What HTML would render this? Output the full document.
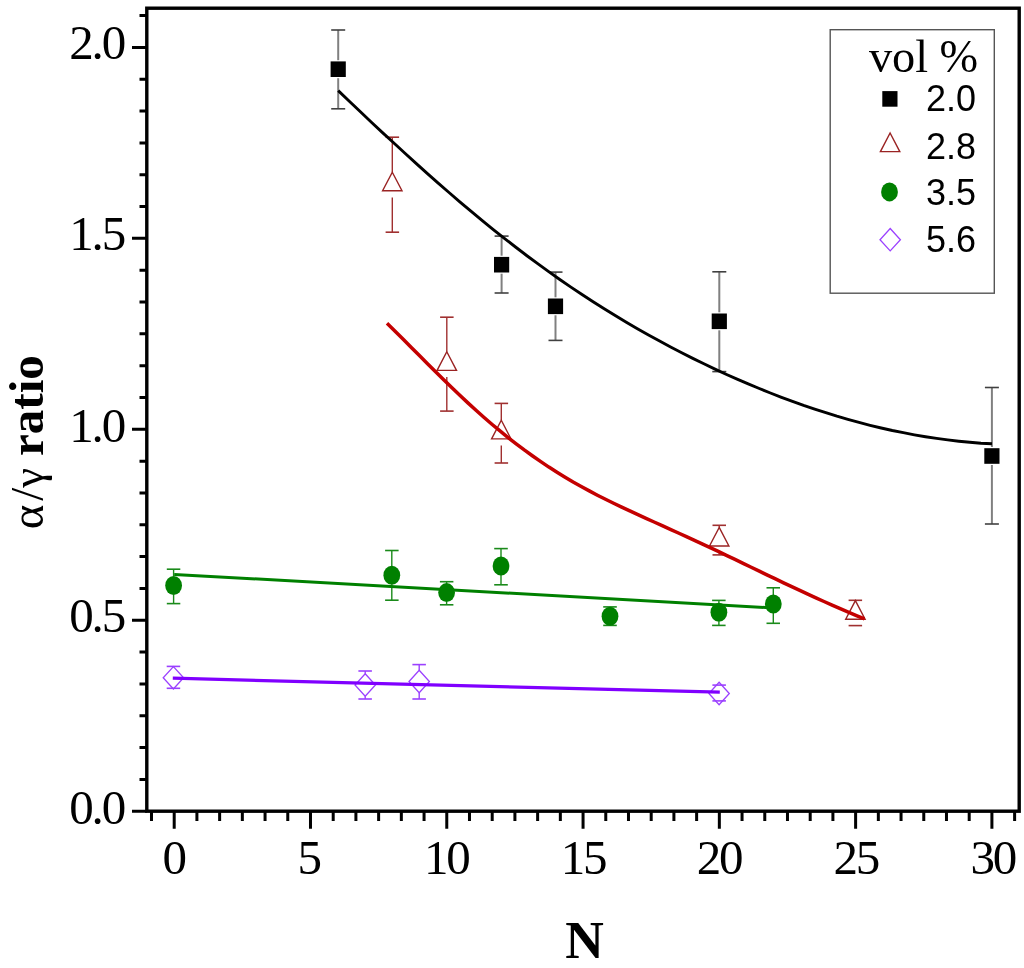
<!DOCTYPE html>
<html><head><meta charset="utf-8"><style>
html,body{margin:0;padding:0;background:#fff;}
body{width:1024px;height:968px;overflow:hidden;position:relative;}
svg{position:absolute;left:0;top:0;will-change:transform;}
text{font-family:"Liberation Serif",serif;}
</style></head><body>
<svg width="1024" height="968" viewBox="0 0 1024 968">

<rect x="146.8" y="8.2" width="872.4" height="803.0" fill="none" stroke="#000" stroke-width="3.4"/>
<path d="M132,811.20H146.8 M132,620.25H146.8 M132,429.30H146.8 M132,238.35H146.8 M132,47.40H146.8 M139.5,779.38H146.8 M139.5,747.55H146.8 M139.5,715.73H146.8 M139.5,683.90H146.8 M139.5,652.08H146.8 M139.5,588.43H146.8 M139.5,556.60H146.8 M139.5,524.78H146.8 M139.5,492.95H146.8 M139.5,461.13H146.8 M139.5,397.48H146.8 M139.5,365.65H146.8 M139.5,333.83H146.8 M139.5,302.00H146.8 M139.5,270.18H146.8 M139.5,206.53H146.8 M139.5,174.70H146.8 M139.5,142.88H146.8 M139.5,111.05H146.8 M139.5,79.23H146.8 M139.5,15.58H146.8" stroke="#000" stroke-width="3" fill="none"/>
<path d="M174.20,811.2V828.7 M310.49,811.2V828.7 M446.77,811.2V828.7 M583.06,811.2V828.7 M719.34,811.2V828.7 M855.62,811.2V828.7 M991.91,811.2V828.7 M151.49,811.2V821 M196.91,811.2V821 M219.63,811.2V821 M242.34,811.2V821 M265.06,811.2V821 M287.77,811.2V821 M333.20,811.2V821 M355.91,811.2V821 M378.63,811.2V821 M401.34,811.2V821 M424.06,811.2V821 M469.48,811.2V821 M492.20,811.2V821 M514.91,811.2V821 M537.63,811.2V821 M560.34,811.2V821 M605.77,811.2V821 M628.48,811.2V821 M651.20,811.2V821 M673.91,811.2V821 M696.63,811.2V821 M742.05,811.2V821 M764.77,811.2V821 M787.48,811.2V821 M810.20,811.2V821 M832.91,811.2V821 M878.34,811.2V821 M901.05,811.2V821 M923.77,811.2V821 M946.48,811.2V821 M969.20,811.2V821 M1014.62,811.2V821" stroke="#000" stroke-width="3" fill="none"/>
<text x="69.3" y="59.1" font-size="49" letter-spacing="-2.2">2.0</text>
<text x="69.3" y="250.3" font-size="49" letter-spacing="-2.2">1.5</text>
<text x="69.3" y="441.5" font-size="49" letter-spacing="-2.2">1.0</text>
<text x="69.3" y="631.9" font-size="49" letter-spacing="-2.2">0.5</text>
<text x="69.3" y="824.3" font-size="49" letter-spacing="-2.2">0.0</text>
<text x="162.5" y="874.1" font-size="49" letter-spacing="-2.2">0</text>
<text x="297.5" y="874.1" font-size="49" letter-spacing="-2.2">5</text>
<text x="424.0" y="874.1" font-size="49" letter-spacing="-2.2">10</text>
<text x="560.7" y="874.1" font-size="49" letter-spacing="-2.2">15</text>
<text x="696.8" y="874.1" font-size="49" letter-spacing="-2.2">20</text>
<text x="833.5" y="874.1" font-size="49" letter-spacing="-2.2">25</text>
<text x="970.4" y="874.1" font-size="49" letter-spacing="-2.2">30</text>
<text x="565.3" y="957.6" font-size="53.4" font-weight="bold">N</text>
<g transform="translate(43,527.4) rotate(-90)"><text x="-1.9" y="0" font-size="47">α</text><text x="26.7" y="0" font-size="47">/</text><text x="39.7" y="0" font-size="45">γ</text><text x="71.3" y="0" font-size="49.2" font-weight="bold">ratio</text></g>
<rect x="830.2" y="29.7" width="164.1" height="263.5" fill="none" stroke="#555" stroke-width="1.4"/>
<text x="868.9" y="71.5" font-size="46.3">vol %</text>
<text x="926" y="110.8" font-size="36" style="font-family:'Liberation Sans',sans-serif">2.0</text>
<text x="926" y="158.5" font-size="36" style="font-family:'Liberation Sans',sans-serif">2.8</text>
<text x="926" y="205" font-size="36" style="font-family:'Liberation Sans',sans-serif">3.5</text>
<text x="926" y="252" font-size="36" style="font-family:'Liberation Sans',sans-serif">5.6</text>
<rect x="882.3" y="91.1" width="15.2" height="15.6" fill="#000"/>
<path d="M890.1,133.0L899.8,151.6L880.4,151.6Z" fill="none" stroke="#9a2323" stroke-width="1.4" stroke-linejoin="miter"/>
<ellipse cx="889.5" cy="191.9" rx="8.4" ry="9.5" fill="#008000"/>
<path d="M890.2,228.5L900.4,239.7L890.2,250.9L880.0,239.7Z" fill="none" stroke="#9b40ff" stroke-width="1.3"/>
<line x1="338.2" y1="30.0" x2="338.2" y2="60.2" stroke="#808080" stroke-width="2.0"/><line x1="338.2" y1="78.2" x2="338.2" y2="108.8" stroke="#808080" stroke-width="2.0"/><line x1="331.2" y1="30.0" x2="345.2" y2="30.0" stroke="#404040" stroke-width="1.6"/><line x1="331.2" y1="108.8" x2="345.2" y2="108.8" stroke="#404040" stroke-width="1.6"/>
<rect x="330.6" y="61.4" width="15.2" height="15.6" fill="#000"/>
<line x1="501.6" y1="236.1" x2="501.6" y2="255.7" stroke="#808080" stroke-width="2.0"/><line x1="501.6" y1="273.7" x2="501.6" y2="293.0" stroke="#808080" stroke-width="2.0"/><line x1="494.6" y1="236.1" x2="508.6" y2="236.1" stroke="#404040" stroke-width="1.6"/><line x1="494.6" y1="293.0" x2="508.6" y2="293.0" stroke="#404040" stroke-width="1.6"/>
<rect x="494.0" y="256.9" width="15.2" height="15.6" fill="#000"/>
<line x1="555.5" y1="272.1" x2="555.5" y2="297.3" stroke="#808080" stroke-width="2.0"/><line x1="555.5" y1="315.3" x2="555.5" y2="340.4" stroke="#808080" stroke-width="2.0"/><line x1="548.5" y1="272.1" x2="562.5" y2="272.1" stroke="#404040" stroke-width="1.6"/><line x1="548.5" y1="340.4" x2="562.5" y2="340.4" stroke="#404040" stroke-width="1.6"/>
<rect x="547.9" y="298.5" width="15.2" height="15.6" fill="#000"/>
<line x1="719.3" y1="271.8" x2="719.3" y2="312.3" stroke="#808080" stroke-width="2.0"/><line x1="719.3" y1="330.3" x2="719.3" y2="371.6" stroke="#808080" stroke-width="2.0"/><line x1="712.3" y1="271.8" x2="726.3" y2="271.8" stroke="#404040" stroke-width="1.6"/><line x1="712.3" y1="371.6" x2="726.3" y2="371.6" stroke="#404040" stroke-width="1.6"/>
<rect x="711.7" y="313.5" width="15.2" height="15.6" fill="#000"/>
<line x1="991.9" y1="387.5" x2="991.9" y2="447.0" stroke="#808080" stroke-width="2.0"/><line x1="991.9" y1="465.0" x2="991.9" y2="524.0" stroke="#808080" stroke-width="2.0"/><line x1="984.9" y1="387.5" x2="998.9" y2="387.5" stroke="#404040" stroke-width="1.6"/><line x1="984.9" y1="524.0" x2="998.9" y2="524.0" stroke="#404040" stroke-width="1.6"/>
<rect x="984.3" y="448.2" width="15.2" height="15.6" fill="#000"/>
<line x1="392.3" y1="137.2" x2="392.3" y2="172.2" stroke="#a03030" stroke-width="1.4"/><line x1="392.3" y1="197.4" x2="392.3" y2="232.2" stroke="#a03030" stroke-width="1.4"/><line x1="385.6" y1="137.2" x2="399.1" y2="137.2" stroke="#a03030" stroke-width="1.6"/><line x1="385.6" y1="232.2" x2="399.1" y2="232.2" stroke="#a03030" stroke-width="1.6"/>
<path d="M392.3,172.2L402.0,190.8L382.6,190.8Z" fill="none" stroke="#9a2323" stroke-width="1.4" stroke-linejoin="miter"/>
<line x1="446.8" y1="317.2" x2="446.8" y2="351.8" stroke="#a03030" stroke-width="1.4"/><line x1="446.8" y1="377.0" x2="446.8" y2="411.1" stroke="#a03030" stroke-width="1.4"/><line x1="440.1" y1="317.2" x2="453.6" y2="317.2" stroke="#a03030" stroke-width="1.6"/><line x1="440.1" y1="411.1" x2="453.6" y2="411.1" stroke="#a03030" stroke-width="1.6"/>
<path d="M446.8,351.8L456.5,370.4L437.1,370.4Z" fill="none" stroke="#9a2323" stroke-width="1.4" stroke-linejoin="miter"/>
<line x1="501.3" y1="403.4" x2="501.3" y2="420.3" stroke="#a03030" stroke-width="1.4"/><line x1="501.3" y1="445.5" x2="501.3" y2="463.0" stroke="#a03030" stroke-width="1.4"/><line x1="494.6" y1="403.4" x2="508.1" y2="403.4" stroke="#a03030" stroke-width="1.6"/><line x1="494.6" y1="463.0" x2="508.1" y2="463.0" stroke="#a03030" stroke-width="1.6"/>
<path d="M501.3,420.3L511.0,438.9L491.6,438.9Z" fill="none" stroke="#9a2323" stroke-width="1.4" stroke-linejoin="miter"/>
<line x1="719.2" y1="525.3" x2="719.2" y2="527.4" stroke="#a03030" stroke-width="1.4"/><line x1="719.2" y1="552.6" x2="719.2" y2="554.9" stroke="#a03030" stroke-width="1.4"/><line x1="712.5" y1="525.3" x2="726.0" y2="525.3" stroke="#a03030" stroke-width="1.6"/><line x1="712.5" y1="554.9" x2="726.0" y2="554.9" stroke="#a03030" stroke-width="1.6"/>
<path d="M719.2,527.4L728.9,546.0L709.5,546.0Z" fill="none" stroke="#9a2323" stroke-width="1.4" stroke-linejoin="miter"/>
<line x1="855.4" y1="600.3" x2="855.4" y2="600.6" stroke="#a03030" stroke-width="1.4"/><line x1="848.6" y1="600.3" x2="862.1" y2="600.3" stroke="#a03030" stroke-width="1.6"/><line x1="848.6" y1="625.6" x2="862.1" y2="625.6" stroke="#a03030" stroke-width="1.6"/>
<path d="M855.4,600.6L865.1,619.2L845.7,619.2Z" fill="none" stroke="#9a2323" stroke-width="1.4" stroke-linejoin="miter"/>
<line x1="173.6" y1="569.2" x2="173.6" y2="576.5" stroke="#1a8a1a" stroke-width="1.4"/><line x1="173.6" y1="594.5" x2="173.6" y2="603.6" stroke="#1a8a1a" stroke-width="1.4"/><line x1="166.8" y1="569.2" x2="180.3" y2="569.2" stroke="#1a8a1a" stroke-width="1.6"/><line x1="166.8" y1="603.6" x2="180.3" y2="603.6" stroke="#1a8a1a" stroke-width="1.6"/>
<line x1="391.8" y1="550.5" x2="391.8" y2="566.2" stroke="#1a8a1a" stroke-width="1.4"/><line x1="391.8" y1="584.2" x2="391.8" y2="600.2" stroke="#1a8a1a" stroke-width="1.4"/><line x1="385.1" y1="550.5" x2="398.6" y2="550.5" stroke="#1a8a1a" stroke-width="1.6"/><line x1="385.1" y1="600.2" x2="398.6" y2="600.2" stroke="#1a8a1a" stroke-width="1.6"/>
<line x1="446.6" y1="581.7" x2="446.6" y2="583.6" stroke="#1a8a1a" stroke-width="1.4"/><line x1="446.6" y1="601.6" x2="446.6" y2="604.8" stroke="#1a8a1a" stroke-width="1.4"/><line x1="439.9" y1="581.7" x2="453.4" y2="581.7" stroke="#1a8a1a" stroke-width="1.6"/><line x1="439.9" y1="604.8" x2="453.4" y2="604.8" stroke="#1a8a1a" stroke-width="1.6"/>
<line x1="501.0" y1="548.6" x2="501.0" y2="557.0" stroke="#1a8a1a" stroke-width="1.4"/><line x1="501.0" y1="575.0" x2="501.0" y2="584.8" stroke="#1a8a1a" stroke-width="1.4"/><line x1="494.2" y1="548.6" x2="507.8" y2="548.6" stroke="#1a8a1a" stroke-width="1.6"/><line x1="494.2" y1="584.8" x2="507.8" y2="584.8" stroke="#1a8a1a" stroke-width="1.6"/>
<line x1="610.0" y1="606.9" x2="610.0" y2="607.3" stroke="#1a8a1a" stroke-width="1.4"/><line x1="610.0" y1="625.3" x2="610.0" y2="625.4" stroke="#1a8a1a" stroke-width="1.4"/><line x1="603.2" y1="606.9" x2="616.8" y2="606.9" stroke="#1a8a1a" stroke-width="1.6"/><line x1="603.2" y1="625.4" x2="616.8" y2="625.4" stroke="#1a8a1a" stroke-width="1.6"/>
<line x1="718.9" y1="600.4" x2="718.9" y2="603.3" stroke="#1a8a1a" stroke-width="1.4"/><line x1="718.9" y1="621.3" x2="718.9" y2="625.4" stroke="#1a8a1a" stroke-width="1.4"/><line x1="712.1" y1="600.4" x2="725.6" y2="600.4" stroke="#1a8a1a" stroke-width="1.6"/><line x1="712.1" y1="625.4" x2="725.6" y2="625.4" stroke="#1a8a1a" stroke-width="1.6"/>
<line x1="773.3" y1="587.8" x2="773.3" y2="595.0" stroke="#1a8a1a" stroke-width="1.4"/><line x1="773.3" y1="613.0" x2="773.3" y2="623.3" stroke="#1a8a1a" stroke-width="1.4"/><line x1="766.5" y1="587.8" x2="780.0" y2="587.8" stroke="#1a8a1a" stroke-width="1.6"/><line x1="766.5" y1="623.3" x2="780.0" y2="623.3" stroke="#1a8a1a" stroke-width="1.6"/>
<line x1="173.4" y1="666.4" x2="173.4" y2="666.6" stroke="#9b40ff" stroke-width="1.4"/><line x1="166.7" y1="666.4" x2="180.2" y2="666.4" stroke="#9b40ff" stroke-width="1.6"/><line x1="166.7" y1="688.3" x2="180.2" y2="688.3" stroke="#9b40ff" stroke-width="1.6"/>
<path d="M173.4,666.6L183.6,677.8L173.4,689.0L163.2,677.8Z" fill="none" stroke="#9b40ff" stroke-width="1.3"/>
<line x1="365.2" y1="671.0" x2="365.2" y2="673.8" stroke="#9b40ff" stroke-width="1.4"/><line x1="365.2" y1="696.2" x2="365.2" y2="699.0" stroke="#9b40ff" stroke-width="1.4"/><line x1="358.4" y1="671.0" x2="371.9" y2="671.0" stroke="#9b40ff" stroke-width="1.6"/><line x1="358.4" y1="699.0" x2="371.9" y2="699.0" stroke="#9b40ff" stroke-width="1.6"/>
<path d="M365.2,673.8L375.4,685.0L365.2,696.2L355.0,685.0Z" fill="none" stroke="#9b40ff" stroke-width="1.3"/>
<line x1="419.2" y1="664.6" x2="419.2" y2="670.3" stroke="#9b40ff" stroke-width="1.4"/><line x1="419.2" y1="692.7" x2="419.2" y2="699.0" stroke="#9b40ff" stroke-width="1.4"/><line x1="412.4" y1="664.6" x2="425.9" y2="664.6" stroke="#9b40ff" stroke-width="1.6"/><line x1="412.4" y1="699.0" x2="425.9" y2="699.0" stroke="#9b40ff" stroke-width="1.6"/>
<path d="M419.2,670.3L429.4,681.5L419.2,692.7L409.0,681.5Z" fill="none" stroke="#9b40ff" stroke-width="1.3"/>
<line x1="712.4" y1="685.1" x2="725.9" y2="685.1" stroke="#9b40ff" stroke-width="1.6"/><line x1="712.4" y1="700.9" x2="725.9" y2="700.9" stroke="#9b40ff" stroke-width="1.6"/>
<path d="M719.1,682.3L729.3,693.5L719.1,704.7L708.9,693.5Z" fill="none" stroke="#9b40ff" stroke-width="1.3"/>
<polyline points="338.2,90.6 349.3,101.2 360.4,111.7 371.4,122.2 382.5,132.6 393.6,142.8 404.7,153.0 415.8,163.1 426.9,173.1 437.9,182.9 449.0,192.5 460.1,202.1 471.2,211.4 482.3,220.6 493.3,229.6 504.4,238.4 515.5,247.0 526.6,255.5 537.7,263.7 548.7,271.7 559.8,279.5 570.9,287.1 582.0,294.5 593.1,301.7 604.2,308.7 615.2,315.5 626.3,322.2 637.4,328.7 648.5,334.9 659.6,341.1 670.6,347.0 681.7,352.8 692.8,358.4 703.9,363.8 715.0,369.1 726.0,374.2 737.1,379.1 748.2,383.9 759.3,388.5 770.4,393.0 781.5,397.3 792.5,401.4 803.6,405.4 814.7,409.1 825.8,412.7 836.9,416.2 847.9,419.4 859.0,422.4 870.1,425.3 881.2,428.0 892.3,430.5 903.3,432.7 914.4,434.8 925.5,436.7 936.6,438.4 947.7,439.9 958.8,441.2 969.8,442.3 980.9,443.2 992.0,443.8" fill="none" stroke="#000" stroke-width="2.9" stroke-linejoin="round"/>
<polyline points="387.0,323.2 395.1,331.2 403.2,339.3 411.3,347.5 419.4,355.6 427.5,363.7 435.6,371.7 443.7,379.7 451.7,387.5 459.8,395.3 467.9,402.9 476.0,410.3 484.1,417.5 492.2,424.5 500.3,431.2 508.4,437.8 516.5,444.1 524.6,450.2 532.7,456.0 540.8,461.6 548.9,467.1 557.0,472.2 565.1,477.2 573.1,482.0 581.2,486.5 589.3,490.9 597.4,495.2 605.5,499.3 613.6,503.3 621.7,507.1 629.8,510.9 637.9,514.7 646.0,518.4 654.1,522.0 662.2,525.7 670.3,529.3 678.4,533.0 686.4,536.7 694.5,540.4 702.6,544.2 710.7,547.9 718.8,551.7 726.9,555.6 735.0,559.4 743.1,563.3 751.2,567.3 759.3,571.2 767.4,575.1 775.5,578.9 783.6,582.8 791.7,586.6 799.8,590.4 807.8,594.1 815.9,597.9 824.0,601.5 832.1,605.1 840.2,608.7 848.3,612.1 856.4,615.6 864.5,618.9" fill="none" stroke="#c40000" stroke-width="3.5" stroke-linejoin="round"/>
<line x1="174.2" y1="574.4" x2="773.3" y2="607.9" stroke="#008000" stroke-width="3"/>
<line x1="172.8" y1="678.2" x2="719.8" y2="692.2" stroke="#8000ff" stroke-width="3.2"/>
<ellipse cx="173.6" cy="585.5" rx="8.4" ry="9.5" fill="#008000"/>
<ellipse cx="391.8" cy="575.2" rx="8.4" ry="9.5" fill="#008000"/>
<ellipse cx="446.6" cy="592.6" rx="8.4" ry="9.5" fill="#008000"/>
<ellipse cx="501.0" cy="566.0" rx="8.4" ry="9.5" fill="#008000"/>
<ellipse cx="610.0" cy="616.3" rx="8.4" ry="9.5" fill="#008000"/>
<ellipse cx="718.9" cy="612.3" rx="8.4" ry="9.5" fill="#008000"/>
<ellipse cx="773.3" cy="604.0" rx="8.4" ry="9.5" fill="#008000"/>
</svg>
</body></html>
